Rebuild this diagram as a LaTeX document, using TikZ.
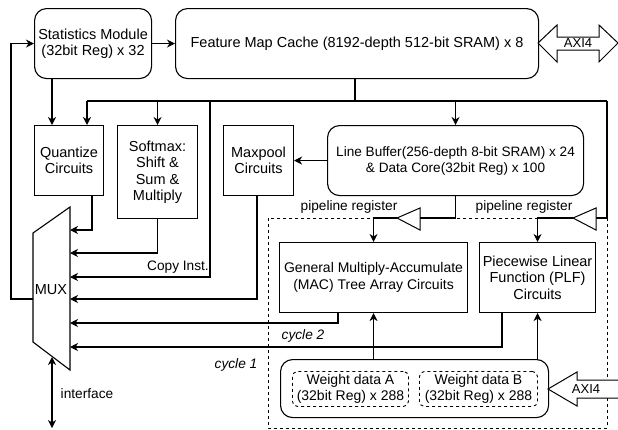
\documentclass[tikz,border=0pt]{standalone}
\usepackage{fontspec}
\setmainfont{Liberation Sans}
\usetikzlibrary{arrows.meta}

\begin{document}
\begin{tikzpicture}[x=1pt,y=-1pt,
  txt/.style={font=\fontsize{14.5}{16.5}\selectfont, inner sep=0pt, align=center},
  box/.style={txt, draw, line width=1.1pt, anchor=north west},
  rbox/.style={box, rounded corners=12pt},
  wbox/.style={box, dashed, line width=0.9pt, rounded corners=5pt, font=\fontsize{14}{16}\selectfont},
  wire/.style={line width=1.1pt},
  thick wire/.style={line width=1.8pt},
  arr/.style={wire, -{Stealth[length=8pt,width=8pt,inset=2.5pt]}},
  thick arr/.style={thick wire, -{Stealth[length=8pt,width=8pt,inset=2.5pt]}},
  darr/.style={wire, {Stealth[length=8pt,width=8pt,inset=2.5pt]}-{Stealth[length=8pt,width=8pt,inset=2.5pt]}},
  lbl/.style={txt, font=\fontsize{13.7}{16}\selectfont},
  ilbl/.style={txt, font=\fontsize{13.7}{16}\selectfont\itshape},
  hollow/.style={line width=1.0pt, line join=miter, fill=white}
]
\useasboundingbox (0,0) rectangle (618,429);

% ---- pipeline region (cycle 1) ----
\draw[dashed, line width=0.9pt] (268,218) rectangle (607,428);

% ---- main blocks ----
\node[rbox, minimum width=117pt, minimum height=70pt] (stats) at (34,8) {Statistics Module\\(32bit Reg) x 32};
\node[rbox, minimum width=363pt, minimum height=70pt] (fmc) at (175,8) {Feature Map Cache (8192-depth 512-bit SRAM) x 8};
\node[box, minimum width=69pt, minimum height=70pt] (quant) at (34,125) {Quantize\\Circuits};
\node[box, minimum width=80pt, minimum height=93pt] (soft) at (117,125) {Softmax:\\Shift \&\\Sum \&\\Multiply};
\node[box, minimum width=70pt, minimum height=70pt] (maxp) at (223,125) {Maxpool\\Circuits};
\node[rbox, minimum width=256pt, minimum height=70pt, font=\fontsize{13.6}{16}\selectfont] (lb) at (327,125) {Line Buffer(256-depth 8-bit SRAM) x 24\\\& Data Core(32bit Reg) x 100};
\node[box, minimum width=188pt, minimum height=70pt, font=\fontsize{14}{16.5}\selectfont] (mac) at (279,242) {General Multiply-Accumulate\\(MAC) Tree Array Circuits};
\node[box, minimum width=116pt, minimum height=70pt] (plf) at (479,242) {Piecewise Linear\\Function (PLF)\\Circuits};
\node[rbox, minimum width=268pt, minimum height=58pt] (wgt) at (280,359) {};
\node[wbox, minimum width=116pt, minimum height=35pt] (wa) at (292,371) {Weight data A\\(32bit Reg) x 288};
\node[wbox, minimum width=118pt, minimum height=35pt] (wb) at (419,371) {Weight data B\\(32bit Reg) x 288};

% ---- MUX ----
\draw[wire, line join=miter] (33,233) -- (70,207) -- (70,370) -- (33,342) -- cycle;
\node[txt] (mux) at (51,290) {MUX};
\coordinate (muxr) at (70,0);
\coordinate (muxl) at (33,299);
\coordinate (muxb) at (52,357);

% ---- AXI4 ports ----
\draw[hollow] (538,43) -- (557,25) -- (557,37) -- (599,37) -- (599,25) -- (618,43)
  -- (599,62) -- (599,50) -- (557,50) -- (557,62) -- cycle;
\node[lbl, font=\fontsize{13}{15}\selectfont] (axitop) at (578,43) {AXI4};
\draw[hollow] (618,380) -- (577,380) -- (577,372) -- (548,389) -- (577,406) -- (577,398) -- (618,398);
\node[lbl, font=\fontsize{13}{15}\selectfont] (axibot) at (586,389) {AXI4};

% ---- feature map bus ----
\coordinate (bus) at (355,101);
\coordinate (busL) at (87,101);
\coordinate (busR) at (607,101);
\coordinate (pr1in) at (420,218);
\coordinate (pr2in) at (596,218);
\draw[thick wire] (fmc.south -| bus) -- (bus);
\draw[thick wire] (busL) -- (bus);
\draw[wire] (bus) -- (busR);
\draw[thick arr] (stats) -- (fmc);
\draw[thick arr] (stats.south -| 52,0) -- (quant.north -| 52,0);
\draw[thick arr] (busL) -- (quant.north -| busL);
\draw[thick arr] (soft.north |- bus) -- (soft.north);
\draw[arr] (lb.north |- bus) -- (lb.north);
\draw[wire] (busR) |- (pr2in);

% ---- pipeline registers ----
\draw[hollow] (397,218) -- (420,208) -- (420,230) -- cycle;
\coordinate (pr1tip) at (397,218);
\draw[hollow] (573,218) -- (596,208) -- (596,230) -- cycle;
\coordinate (pr2tip) at (573,218);
\node[lbl] (pr1lbl) at (349,207) {pipeline register};
\node[lbl] (pr2lbl) at (524,207) {pipeline register};

% copy path into the MUX
\coordinate (copyc) at (210,101);
\draw[arr] (copyc) |- (muxr |- 0,277);
\node[lbl, anchor=east] (copylbl) at (209,267) {Copy Inst.};

% ---- results into the MUX ----
\draw[arr] (quant.south -| 92,0) |- (muxr |- 0,230);
\draw[arr] (soft.south) |- (muxr |- 0,253);
\draw[arr] (maxp.south -| 257,0) |- (muxr |- 0,299);
\draw[arr] (lb.west) -- (maxp.east);
\draw[arr] (mac.south -| 338,0) |- (muxr |- 0,323);
\draw[arr] (plf.south -| 502,0) |- (muxr |- 0,347);
\node[ilbl] (cyc2) at (303,336) {cycle 2};
\node[ilbl] (cyc1) at (236,365) {cycle 1};

% ---- line buffer through pipeline registers ----
\draw[wire] (lb.south) |- (pr1in);
\draw[arr] (pr1tip) -| (mac.north);
\draw[arr] (pr2tip) -| (plf.north);

% ---- weights ----
\draw[arr] (wgt.north -| mac.south) -- (mac.south);
\draw[arr] (wgt.north -| plf.south) -- (plf.south);

% ---- feedback and interface ----
\draw[arr] (muxl) -- (11,299) |- (stats.west);
\draw[darr] (muxb) -- (52,428);
\node[lbl] (iface) at (87,394) {interface};
\end{tikzpicture}
\end{document}
